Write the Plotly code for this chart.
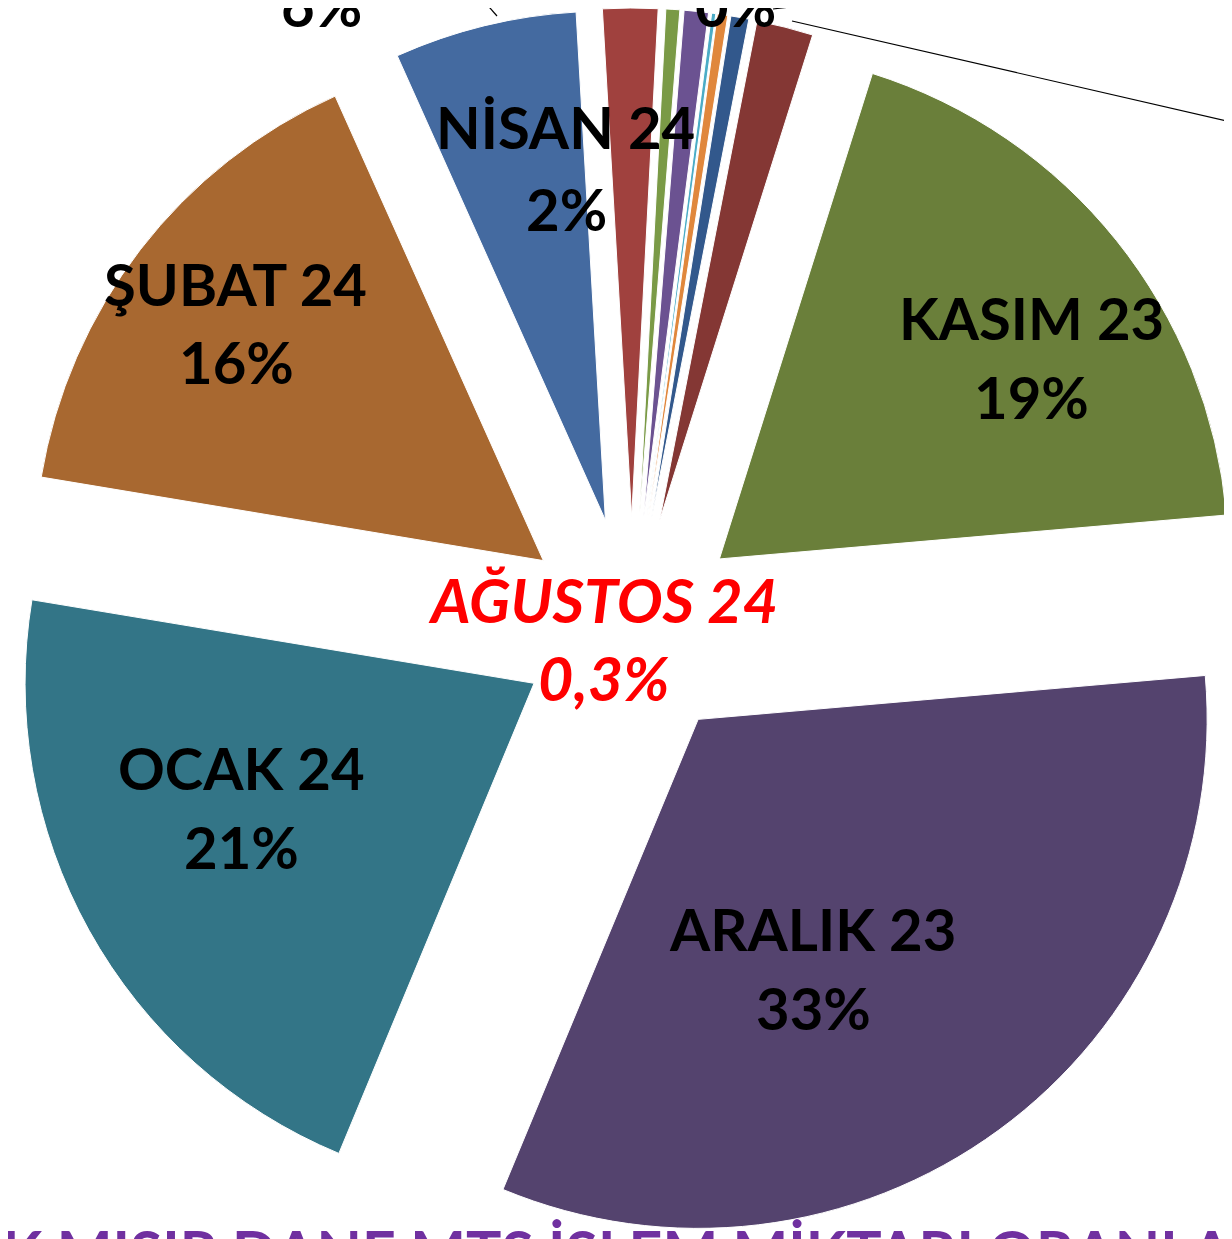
import plotly.graph_objects as go

# The page body adds an 8px offset; figure coordinates = screen - 8
OFF = 8
W, H = 1248, 1242

# ---- data ----
months = ["KASIM 23", "ARALIK 23", "OCAK 24", "ŞUBAT 24", "MART 24", "NİSAN 24",
          "MAYIS 24", "HAZİRAN 24", "TEMMUZ 24", "AĞUSTOS 24", "EYLÜL 24", "EKİM 24"]
shares = [18.8, 32.7, 21.4, 15.7, 5.8, 1.75, 0.44, 0.77, 0.13, 0.33, 0.57, 1.8]
colors = ["#6A7F3A", "#54436E", "#337587", "#A86830", "#446AA0", "#A0413E",
          "#7A9A46", "#6B5291", "#4BACC6", "#E0873C", "#32588C", "#843734"]

# label lines as shown on the chart (screen centre of each text line)
label_lines = ["KASIM 23", "19%", "ARALIK 23", "33%", "OCAK 24", "21%", "ŞUBAT 24", "16%",
               "NİSAN 24", "2%", "6%", "0%"]
label_pos = [(1031, 319), (1031, 398), (812, 930), (813, 1009), (241, 769), (241, 848),
             (235, 285), (236, 364), (565, 129), (566, 210), (321, 7), (735, 7)]
red_lines = ["AĞUSTOS 24", "0,3%"]
red_pos = [(603, 601), (604, 680)]
title_text = "AYLIK MISIR DANE MTS İŞLEM MİKTARI ORANLARI"


def px(x):
    return (x - OFF) / W


def py(y):
    return 1 - (y - OFF) / H


fig = go.Figure(go.Pie(
    labels=months, values=shares, sort=False, direction="clockwise", rotation=17.5,
    pull=[0.22] * len(months),
    marker=dict(colors=colors, line=dict(color="white", width=1)),
    textinfo="none", hoverinfo="label+percent", showlegend=False,
    domain=dict(x=[0, 1], y=[0, 1]),
))

ann = []
for t, (x, y) in zip(label_lines, label_pos):
    ann.append(dict(text=t, x=px(x), y=py(y - 2), xref="paper", yref="paper", showarrow=False,
                    xanchor="center", yanchor="middle",
                    font=dict(family="Lato", size=58, color="black", weight="bold")))
for t, (x, y) in zip(red_lines, red_pos):
    ann.append(dict(text="<i>" + t + "</i>", x=px(x), y=py(y - 2), xref="paper", yref="paper",
                    showarrow=False, xanchor="center", yanchor="middle",
                    font=dict(family="Lato", size=61, color="#FF0000", weight="bold")))
ann.append(dict(text=title_text, x=px(-124), y=py(1214), xref="paper", yref="paper", showarrow=False,
                xanchor="left", yanchor="top",
                font=dict(family="Lato", size=59, color="#7030A0", weight="bold")))

lines = [((483, 0), (497, 16)), ((773, 9), (850, 0)), ((792, 21), (1240, 124))]
shapes = [dict(type="line", xref="paper", yref="paper", x0=px(a[0]), y0=py(a[1]),
               x1=px(b[0]), y1=py(b[1]), line=dict(color="black", width=1.2)) for a, b in lines]

fig.update_layout(width=W, height=H, margin=dict(l=0, r=0, t=0, b=0),
                  paper_bgcolor="white", plot_bgcolor="white",
                  annotations=ann, shapes=shapes)
fig.write_html("out.html")
